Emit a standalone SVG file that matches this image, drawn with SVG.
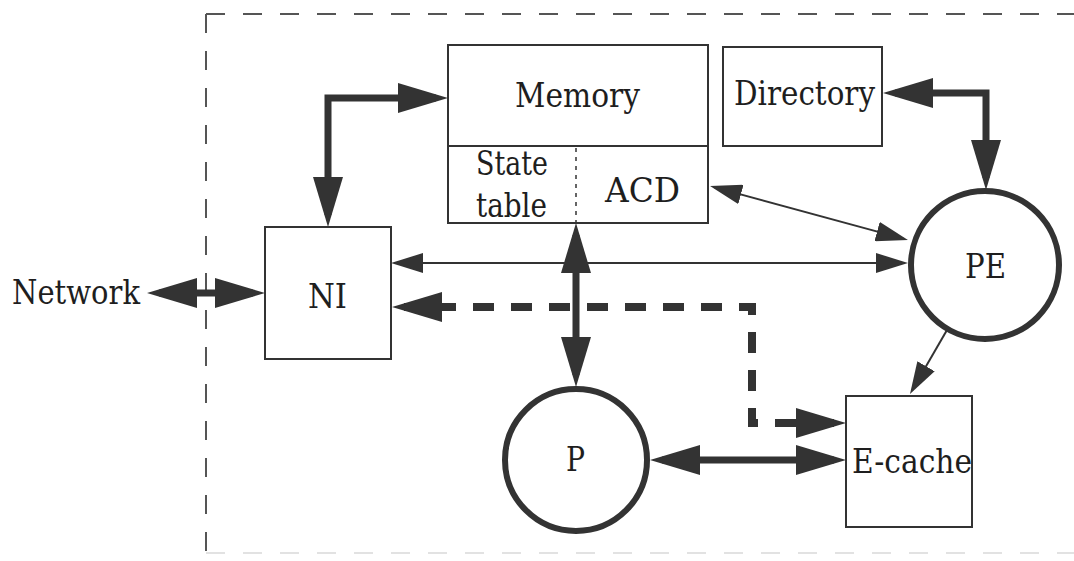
<svg xmlns="http://www.w3.org/2000/svg" width="1074" height="561" viewBox="0 0 1074 561">
<style>
  .lbl { font-family: "DejaVu Serif", "Liberation Serif", serif; font-size: 33px; fill: #1e1e1e; }
  .box { fill: #fff; stroke: #333; stroke-width: 2; }
  .circ { fill: #fff; stroke: #333; stroke-width: 6; }
  .thick { fill: none; stroke: #333; stroke-width: 7; }
  .dash { fill: none; stroke: #333; stroke-width: 8; stroke-dasharray: 21 17; }
  .thin { fill: none; stroke: #333; stroke-width: 2; }
  .border { fill: none; stroke: #555; stroke-width: 2; stroke-dasharray: 19 18; }
</style>
<defs>
  <marker id="big" markerUnits="userSpaceOnUse" markerWidth="50" markerHeight="30" refX="38" refY="15" orient="auto-start-reverse" viewBox="0 0 50 30">
    <path d="M0,0 L50,15 L0,30 z" fill="#333"/>
  </marker>
  <marker id="small" markerUnits="userSpaceOnUse" markerWidth="32" markerHeight="20" refX="28" refY="10" orient="auto-start-reverse" viewBox="0 0 32 20">
    <path d="M0,0 L32,10 L0,20 z" fill="#333"/>
  </marker>
</defs>
<rect width="1074" height="561" fill="#fff"/>
<g id="border">
  <path class="border" d="M206,14 H1074"/>
  <path class="border" d="M206,14 V561"/>
  <path class="border" d="M206,553 H1074" style="stroke:#e2e2e2"/>
</g>
<g id="connectors">
  <path class="thick" d="M159,293 H253" marker-start="url(#big)" marker-end="url(#big)"/>
  <path class="thick" d="M328,215 V98 H436" marker-start="url(#big)" marker-end="url(#big)"/>
  <path class="thick" d="M895,93 H986 V178" marker-start="url(#big)" marker-end="url(#big)"/>
  <path class="thick" d="M576,235 V375" marker-start="url(#big)" marker-end="url(#big)"/>
  <path class="thick" d="M662,460 H834" marker-start="url(#big)" marker-end="url(#big)"/>
  <path class="dash" d="M834,423 H752 V307 H404" marker-start="url(#big)" marker-end="url(#big)"/>
  <path class="thin" d="M395,263 H904" marker-start="url(#small)" marker-end="url(#small)"/>
  <path class="thin" d="M713.9,187.1 L904.1,238.9" marker-start="url(#small)" marker-end="url(#small)"/>
  <path class="thin" d="M947,330 L912,390.5" marker-end="url(#small)"/>
</g>
<g id="network">
  <text class="lbl" x="12" y="304" textLength="128" lengthAdjust="spacingAndGlyphs">Network</text>
</g>
<g id="ni">
  <rect class="box" x="265" y="227" width="126" height="132"/>
  <text class="lbl" x="308" y="308" textLength="39" lengthAdjust="spacingAndGlyphs">NI</text>
</g>
<g id="memory">
  <rect class="box" x="448" y="45" width="260" height="178"/>
  <line x1="448" y1="146" x2="708" y2="146" stroke="#333" stroke-width="2"/>
  <line x1="576" y1="148" x2="576" y2="222" stroke="#333" stroke-width="1.5" stroke-dasharray="4 5"/>
  <text class="lbl" x="515" y="107" textLength="125" lengthAdjust="spacingAndGlyphs">Memory</text>
  <text class="lbl" x="476" y="175" textLength="72" lengthAdjust="spacingAndGlyphs">State</text>
  <text class="lbl" x="476" y="217" textLength="71" lengthAdjust="spacingAndGlyphs">table</text>
  <text class="lbl" x="605" y="202" textLength="75" lengthAdjust="spacingAndGlyphs">ACD</text>
</g>
<g id="directory">
  <rect class="box" x="723" y="47" width="159" height="99"/>
  <text class="lbl" x="734" y="105" textLength="141" lengthAdjust="spacingAndGlyphs">Directory</text>
</g>
<g id="pe">
  <circle class="circ" cx="985" cy="265" r="74"/>
  <text class="lbl" x="965" y="278" textLength="41" lengthAdjust="spacingAndGlyphs">PE</text>
</g>
<g id="p">
  <circle class="circ" cx="576" cy="460" r="71"/>
  <text class="lbl" x="566" y="471" textLength="19" lengthAdjust="spacingAndGlyphs">P</text>
</g>
<g id="ecache">
  <rect class="box" x="846" y="396" width="126" height="131"/>
  <text class="lbl" x="852" y="473" textLength="120" lengthAdjust="spacingAndGlyphs">E-cache</text>
</g>
</svg>
